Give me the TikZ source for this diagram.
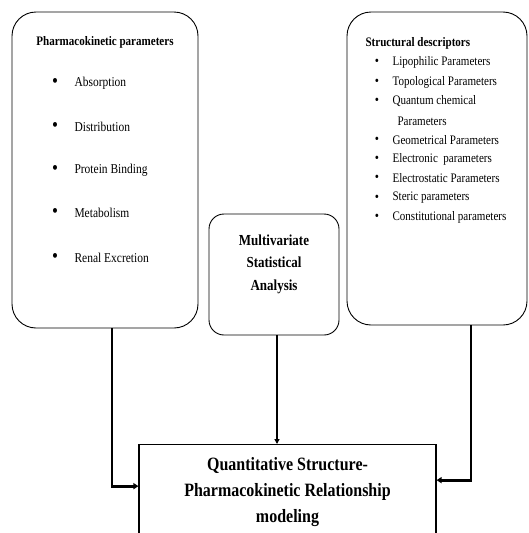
\documentclass[tikz,border=0pt]{standalone}
\usepackage{fontspec}
\setmainfont{Liberation Serif}[FakeStretch=0.85]
\usetikzlibrary{positioning,arrows.meta,calc}
\newcommand{\itm}{\textbullet}

\begin{document}
\begin{tikzpicture}[x=1pt,y=-1pt,
  panel/.style={draw,line width=0.9pt,rounded corners=24pt},
  mbox/.style={draw,line width=0.9pt,rounded corners=15pt},
  res/.style={draw,line width=1.1pt,align=center,anchor=north,minimum width=297pt,inner ysep=13pt,
    font=\fontsize{18.8}{26}\selectfont\bfseries},
  lk/.style={line width=2.8pt,-{Triangle[length=5pt,width=6pt]}},
  lkthin/.style={line width=1.4pt,-{Triangle[length=5pt,width=5pt]}},
  pk/.style={font=\fontsize{13.5}{15}\selectfont,anchor=west},
  sdi/.style={font=\fontsize{13}{15}\selectfont,anchor=west}]
  \clip (0,0) rectangle (529,533);
  \fill[white] (0,0) rectangle (529,533);
  % boxes
  \node[panel,minimum width=186pt,minimum height=316pt] (pkbox) at (105,170) {};
  \node[panel,minimum width=180pt,minimum height=313pt] (sdbox) at (437,168.5) {};
  \node[mbox,minimum width=130pt,minimum height=121pt] (msa) at (274,274.5) {};
  \node[font=\fontsize{15.3}{22.5}\selectfont\bfseries,align=center] (msatxt) at (274,264)
    {Multivariate\\Statistical\\Analysis};
  \node[res] (qsar) at (287.5,444) {Quantitative Structure-\\Pharmacokinetic Relationship\\modeling};
  % pharmacokinetic list
  \node[font=\fontsize{13}{15}\selectfont\bfseries] (pkhead) at (105,42) {Pharmacokinetic parameters};
  \foreach \y/\t [count=\i] in {83/Absorption,127/Distribution,170/Protein Binding,213/Metabolism,258/Renal Excretion}{
    \node[font=\fontsize{20}{20}\selectfont] (pkb\i) at (55,\y) {\itm};
    \node[pk] (pk\i) at (71,\y) {\t};
  }
  % structural descriptors
  \node[font=\fontsize{13}{15}\selectfont\bfseries,anchor=west] (sdhead) at (362,43) {Structural descriptors};
  \foreach \y/\t [count=\i] in {62/Lipophilic Parameters,82/Topological Parameters,101/Quantum chemical,
    140/Geometrical Parameters,159/Electronic\ \ parameters,178/Electrostatic Parameters,
    198/Steric parameters,217/Constitutional parameters}{
    \node[font=\fontsize{14}{14}\selectfont] (sdb\i) at (377,\y) {\itm};
    \node[sdi] (sd\i) at (389,\y) {\t};
  }
  \node[sdi] (sd3b) at (394,121) {Parameters};
  % connectors
  \draw[lk] ([xshift=7pt]pkbox.south) |- ([yshift=6pt]qsar.west);
  \draw[lk] ([xshift=34pt]sdbox.south) |- ([yshift=12pt]qsar.east);
  \draw[lkthin] ([xshift=3pt]msa.south) -- ([xshift=3pt]msa.south |- qsar.north);
\end{tikzpicture}
\end{document}
